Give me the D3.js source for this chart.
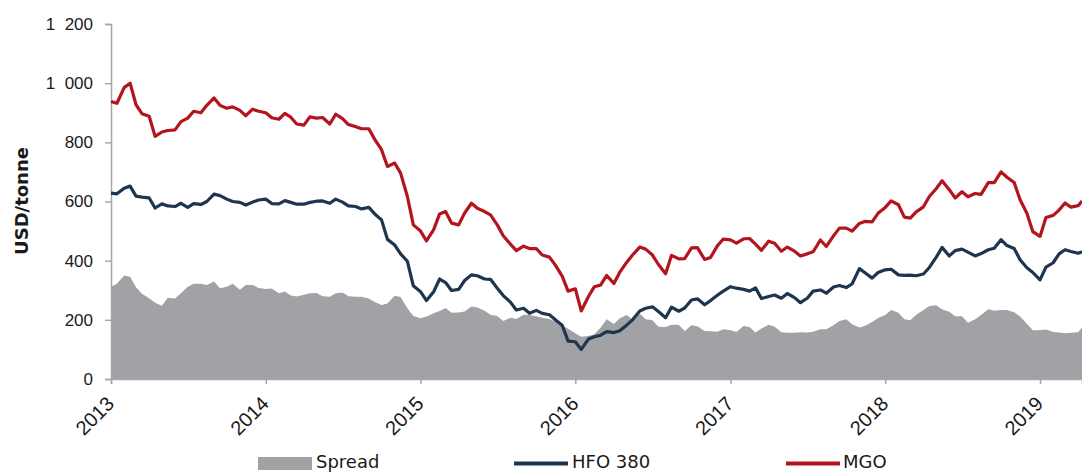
<!DOCTYPE html>
<html>
<head>
<meta charset="utf-8">
<script src="https://cdn.jsdelivr.net/npm/d3@7"></script>
<style>
  html, body { margin: 0; padding: 0; background: #fff; }
  svg { display: block; font-family: "DejaVu Sans", Verdana, sans-serif; }
</style>
</head>
<body>
<svg id="chart" width="1082" height="472"></svg>
<script>
// Observation dates (twice a month)
const dates = [
  "2013-01-01","2013-01-15","2013-02-01","2013-02-15","2013-03-01","2013-03-15","2013-04-01","2013-04-15","2013-05-01","2013-05-15","2013-06-01","2013-06-15","2013-07-01","2013-07-15","2013-08-01","2013-08-15","2013-09-01","2013-09-15","2013-10-01","2013-10-15","2013-11-01","2013-11-15","2013-12-01","2013-12-15",
  "2014-01-01","2014-01-15","2014-02-01","2014-02-15","2014-03-01","2014-03-15","2014-04-01","2014-04-15","2014-05-01","2014-05-15","2014-06-01","2014-06-15","2014-07-01","2014-07-15","2014-08-01","2014-08-15","2014-09-01","2014-09-15","2014-10-01","2014-10-15","2014-11-01","2014-11-15","2014-12-01","2014-12-15",
  "2015-01-01","2015-01-15","2015-02-01","2015-02-15","2015-03-01","2015-03-15","2015-04-01","2015-04-15","2015-05-01","2015-05-15","2015-06-01","2015-06-15","2015-07-01","2015-07-15","2015-08-01","2015-08-15","2015-09-01","2015-09-15","2015-10-01","2015-10-15","2015-11-01","2015-11-15","2015-12-01","2015-12-15",
  "2016-01-01","2016-01-15","2016-02-01","2016-02-15","2016-03-01","2016-03-15","2016-04-01","2016-04-15","2016-05-01","2016-05-15","2016-06-01","2016-06-15","2016-07-01","2016-07-15","2016-08-01","2016-08-15","2016-09-01","2016-09-15","2016-10-01","2016-10-15","2016-11-01","2016-11-15","2016-12-01","2016-12-15",
  "2017-01-01","2017-01-15","2017-02-01","2017-02-15","2017-03-01","2017-03-15","2017-04-01","2017-04-15","2017-05-01","2017-05-15","2017-06-01","2017-06-15","2017-07-01","2017-07-15","2017-08-01","2017-08-15","2017-09-01","2017-09-15","2017-10-01","2017-10-15","2017-11-01","2017-11-15","2017-12-01","2017-12-15",
  "2018-01-01","2018-01-15","2018-02-01","2018-02-15","2018-03-01","2018-03-15","2018-04-01","2018-04-15","2018-05-01","2018-05-15","2018-06-01","2018-06-15","2018-07-01","2018-07-15","2018-08-01","2018-08-15","2018-09-01","2018-09-15","2018-10-01","2018-10-15","2018-11-01","2018-11-15","2018-12-01","2018-12-15",
  "2019-01-01","2019-01-15","2019-02-01","2019-02-15","2019-03-01","2019-03-15","2019-04-01","2019-04-10"
];

// MGO price, USD/tonne
const mgo = [
  938,932,985,1000,927,897,888,820,835,840,842,870,882,905,900,925,950,925,915,920,908,890,912,905,
  900,883,878,898,885,862,858,886,882,884,862,895,880,860,853,846,846,810,775,718,730,696,617,521,
  500,467,505,558,566,527,521,561,594,577,566,555,521,484,456,434,449,441,441,419,412,385,348,297,
  305,230,279,312,318,350,323,361,394,419,446,439,419,387,356,418,406,407,443,444,404,411,450,473,
  470,459,474,475,456,435,466,459,432,446,432,416,423,430,470,448,484,510,510,500,526,533,531,560,
  580,602,589,547,544,565,582,617,643,670,640,612,633,616,627,624,664,664,700,682,664,606,560,498,
  482,546,553,571,595,581,586,602
];

// HFO 380 price, USD/tonne
const hfo380 = [
  628,626,645,652,618,615,612,578,592,585,583,594,580,593,590,600,625,620,608,600,597,588,598,605,
  608,593,592,603,597,591,591,597,601,602,594,608,598,585,583,575,580,558,538,472,453,423,398,315,
  295,265,295,338,326,299,303,333,352,349,338,337,307,282,260,233,239,222,232,222,217,200,182,128,
  126,100,135,143,148,160,157,163,182,200,230,239,244,228,207,243,229,240,267,271,251,265,283,297,
  312,307,303,297,308,272,279,284,273,289,275,258,273,297,301,290,311,316,309,322,373,358,341,360,
  369,371,352,350,351,349,355,377,411,445,416,434,439,429,416,424,437,442,471,451,441,403,376,360,
  335,378,393,423,437,431,425,430
];

// Price spread MGO vs HFO 380, USD/tonne
const spread = [
  312,322,350,346,310,288,273,258,248,275,272,290,312,322,322,318,330,307,312,322,302,318,318,308,
  304,306,290,296,282,279,285,290,291,280,278,290,292,280,278,278,272,260,250,255,281,277,239,213,
  205,211,222,230,240,224,225,228,245,242,231,217,213,196,207,203,217,216,212,207,203,194,181,170,
  155,143,145,151,174,202,186,205,216,201,221,202,199,177,176,183,183,162,182,178,162,161,160,168,
  165,159,179,176,157,171,183,177,158,156,156,158,157,160,168,168,182,196,202,185,174,180,193,206,
  216,233,224,202,199,217,233,247,249,236,227,212,212,190,202,216,236,231,233,233,226,211,187,165,
  165,167,159,157,155,156,158,174
];

const yTicks = [0, 200, 400, 600, 800, 1000, 1200];
const yearTicks = ["2013-01-01","2014-01-01","2015-01-01","2016-01-01","2017-01-01","2018-01-01","2019-01-01"];

const COLORS = { spread: "#a1a2a6", hfo: "#1e3550", mgo: "#b3141e", axis: "#a6a6a6", text: "#1a1a1a" };

const parse = d3.timeParse("%Y-%m-%d");
const t = dates.map(parse);

const svg = d3.select("#chart");
const plot = { left: 111, right: 1082, top: 24, bottom: 379 };

const x = d3.scaleTime().domain([t[0], t[t.length - 1]]).range([plot.left, plot.right]);
const y = d3.scaleLinear().domain([0, 1200]).range([plot.bottom, plot.top]);

// Spread as a filled area from zero
svg.append("path")
  .datum(spread)
  .attr("fill", COLORS.spread)
  .attr("d", d3.area().x((d, i) => x(t[i])).y0(y(0)).y1(d => y(d)));

// Axes (thousands separated by a figure space)
const spaceThousands = d => d3.format(",")(d).replace(/,/g, "\u2007");

const yAxis = svg.append("g")
  .attr("transform", `translate(${plot.left},0)`)
  .call(d3.axisLeft(y).tickValues(yTicks).tickSize(6).tickPadding(12).tickFormat(spaceThousands));

const xAxis = svg.append("g")
  .attr("transform", `translate(0,${plot.bottom})`)
  .call(d3.axisBottom(x).tickValues(yearTicks.map(parse)).tickSize(5).tickFormat(d3.timeFormat("%Y")));

[yAxis, xAxis].forEach(g => {
  g.select(".domain").attr("stroke", COLORS.axis).attr("stroke-width", 1.5);
  g.selectAll(".tick line").attr("stroke", COLORS.axis).attr("stroke-width", 1.5);
  g.selectAll(".tick text").attr("fill", COLORS.text).style("font-size", "17px");
});

xAxis.selectAll(".tick text")
  .style("font-size", "20px")
  .attr("x", 0).attr("y", 0).attr("dy", "0.35em")
  .attr("text-anchor", "end")
  .attr("transform", "translate(-1,21) rotate(-45)");

// Price lines
const line = d3.line().x((d, i) => x(t[i])).y(d => y(d));

svg.append("path")
  .datum(hfo380)
  .attr("fill", "none")
  .attr("stroke", COLORS.hfo)
  .attr("stroke-width", 3.2)
  .attr("stroke-linejoin", "round")
  .attr("d", line);

svg.append("path")
  .datum(mgo)
  .attr("fill", "none")
  .attr("stroke", COLORS.mgo)
  .attr("stroke-width", 3.2)
  .attr("stroke-linejoin", "round")
  .attr("d", line);

// Y axis title
svg.append("text")
  .attr("transform", "translate(28,201) rotate(-90)")
  .attr("text-anchor", "middle")
  .attr("fill", COLORS.text)
  .style("font-size", "18px")
  .style("font-weight", "bold")
  .text("USD/tonne");

// Legend
const legend = svg.append("g").style("font-size", "18px").attr("fill", COLORS.text);

legend.append("rect").attr("x", 258).attr("y", 457).attr("width", 54).attr("height", 13).attr("fill", COLORS.spread);
legend.append("text").attr("x", 316).attr("y", 468).text("Spread");

legend.append("line").attr("x1", 514).attr("x2", 568).attr("y1", 463.5).attr("y2", 463.5)
  .attr("stroke", COLORS.hfo).attr("stroke-width", 4);
legend.append("text").attr("x", 572).attr("y", 468).text("HFO 380");

legend.append("line").attr("x1", 786).attr("x2", 840).attr("y1", 463.5).attr("y2", 463.5)
  .attr("stroke", COLORS.mgo).attr("stroke-width", 4);
legend.append("text").attr("x", 843).attr("y", 468).text("MGO");
</script>
</body>
</html>
